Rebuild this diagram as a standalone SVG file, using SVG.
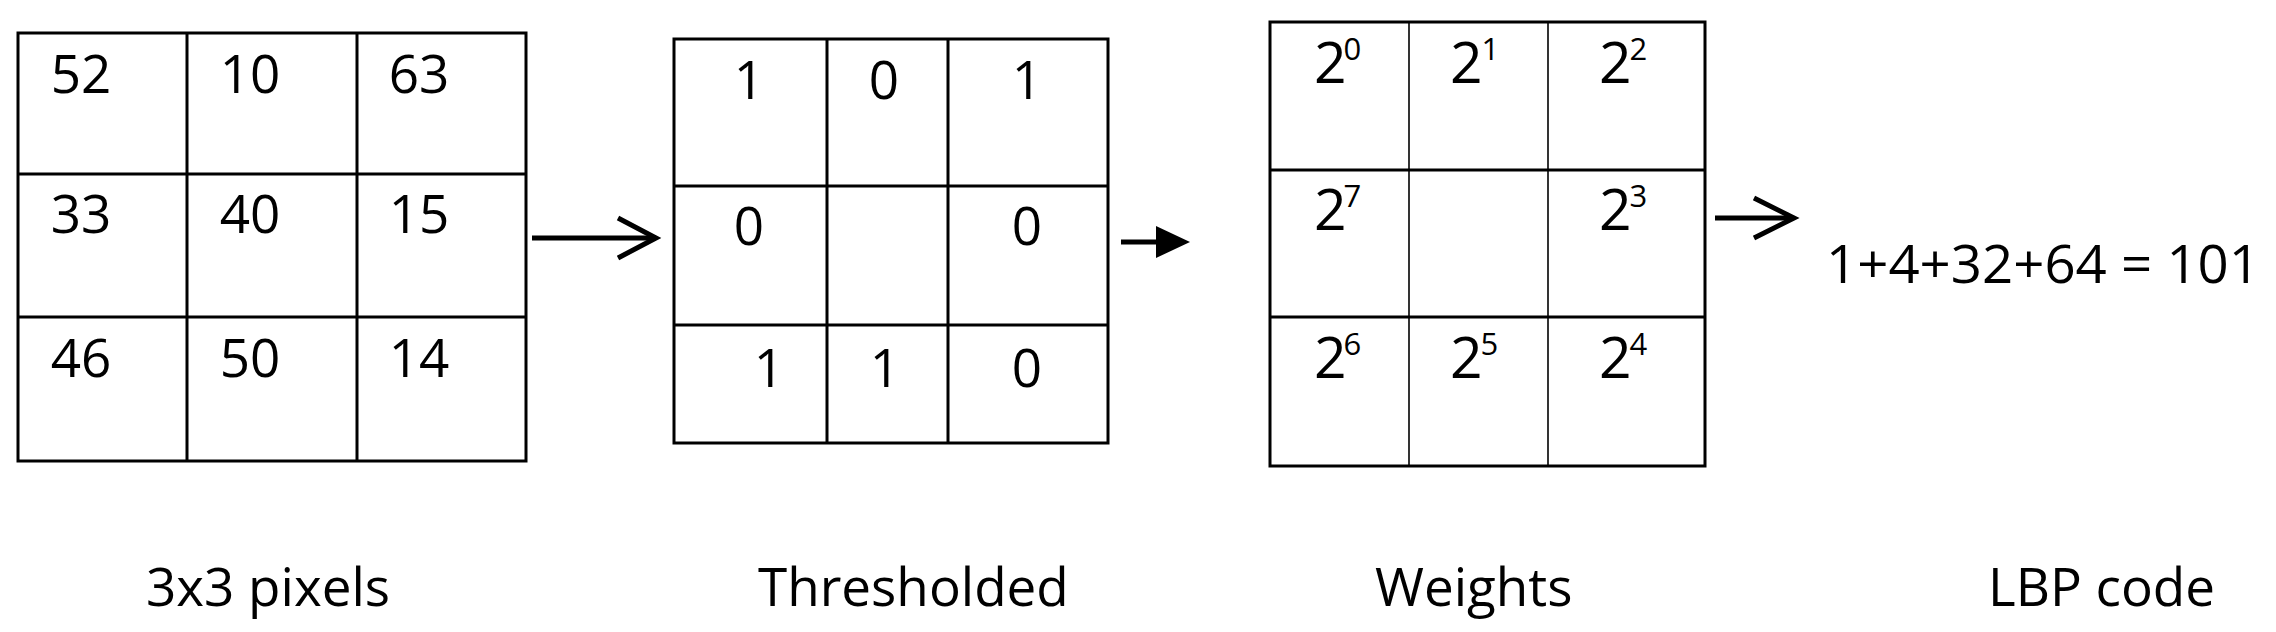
<svg xmlns="http://www.w3.org/2000/svg" width="2276" height="632" viewBox="0 0 2276 632">
<style>
.bg{fill:#ffffff}
.grid{fill:none;stroke:#000;stroke-width:3}
.thin{fill:none;stroke:#000;stroke-width:1.6}
.t{font-family:"Open Sans","Noto Sans","DejaVu Sans",sans-serif;font-size:53px;fill:#000}
.c{text-anchor:middle}
.w{font-family:"Open Sans","Noto Sans","DejaVu Sans",sans-serif;font-size:57px;fill:#000}
.sup{font-size:31px}
.arr{fill:none;stroke:#000;stroke-width:5;stroke-linecap:butt;stroke-linejoin:miter}
</style>
<rect class="bg" x="0" y="0" width="2276" height="632"/>

<g id="pixels">
  <rect class="grid" x="18" y="33" width="508" height="428"/>
  <line class="grid" x1="187" y1="33" x2="187" y2="461"/>
  <line class="grid" x1="357" y1="33" x2="357" y2="461"/>
  <line class="grid" x1="18" y1="174" x2="526" y2="174"/>
  <line class="grid" x1="18" y1="317" x2="526" y2="317"/>
  <text class="t c" x="81" y="93">52</text>
  <text class="t c" x="250" y="93">10</text>
  <text class="t c" x="419" y="93">63</text>
  <text class="t c" x="81" y="233">33</text>
  <text class="t c" x="250" y="233">40</text>
  <text class="t c" x="419" y="233">15</text>
  <text class="t c" x="81" y="377">46</text>
  <text class="t c" x="250" y="377">50</text>
  <text class="t c" x="419" y="377">14</text>
</g>

<g id="thresholded">
  <rect class="grid" x="674" y="39" width="434" height="404"/>
  <line class="grid" x1="827" y1="39" x2="827" y2="443"/>
  <line class="grid" x1="948" y1="39" x2="948" y2="443"/>
  <line class="grid" x1="674" y1="186" x2="1108" y2="186"/>
  <line class="grid" x1="674" y1="325" x2="1108" y2="325"/>
  <text class="t c" x="749" y="99">1</text>
  <text class="t c" x="884" y="99">0</text>
  <text class="t c" x="1027" y="99">1</text>
  <text class="t c" x="749" y="245">0</text>
  <text class="t c" x="1027" y="245">0</text>
  <text class="t c" x="769" y="387">1</text>
  <text class="t c" x="885" y="387">1</text>
  <text class="t c" x="1027" y="387">0</text>
</g>

<g id="weights">
  <rect class="grid" x="1270" y="22" width="435" height="444"/>
  <line class="thin" x1="1409" y1="22" x2="1409" y2="466"/>
  <line class="thin" x1="1548" y1="22" x2="1548" y2="466"/>
  <line class="grid" x1="1270" y1="170" x2="1705" y2="170"/>
  <line class="grid" x1="1270" y1="317" x2="1705" y2="317"/>
  <text class="w" x="1314" y="83">2<tspan class="sup" dx="-3" dy="-23">0</tspan></text>
  <text class="w" x="1450" y="83">2<tspan class="sup" dx="-1" dy="-23">1</tspan></text>
  <text class="w" x="1599" y="83">2<tspan class="sup" dx="-2" dy="-23">2</tspan></text>
  <text class="w" x="1314" y="230">2<tspan class="sup" dx="-3" dy="-23">7</tspan></text>
  <text class="w" x="1599" y="230">2<tspan class="sup" dx="-2" dy="-23">3</tspan></text>
  <text class="w" x="1314" y="378">2<tspan class="sup" dx="-3" dy="-23">6</tspan></text>
  <text class="w" x="1450" y="378">2<tspan class="sup" dx="-2" dy="-23">5</tspan></text>
  <text class="w" x="1599" y="378">2<tspan class="sup" dx="-2" dy="-23">4</tspan></text>
</g>

<g id="lbp-result">
  <text class="t" x="1826" y="283" textLength="434" lengthAdjust="spacingAndGlyphs">1+4+32+64 = 101</text>
</g>

<g id="labels">
  <text class="t" x="146" y="606">3x3 pixels</text>
  <text class="t" x="758" y="606">Thresholded</text>
  <text class="t" x="1375" y="606">Weights</text>
  <text class="t" x="1988" y="606">LBP code</text>
</g>

<g id="connectors">
  <line class="arr" x1="532" y1="238" x2="654" y2="238"/>
  <polyline class="arr" points="618,218 656,238 618,258"/>
  <line class="arr" x1="1121" y1="242" x2="1160" y2="242"/>
  <polygon points="1156,226 1190,242 1156,258" fill="#000"/>
  <line class="arr" x1="1715" y1="218" x2="1793" y2="218"/>
  <polyline class="arr" points="1754,198 1794,218 1754,238"/>
</g>
</svg>
